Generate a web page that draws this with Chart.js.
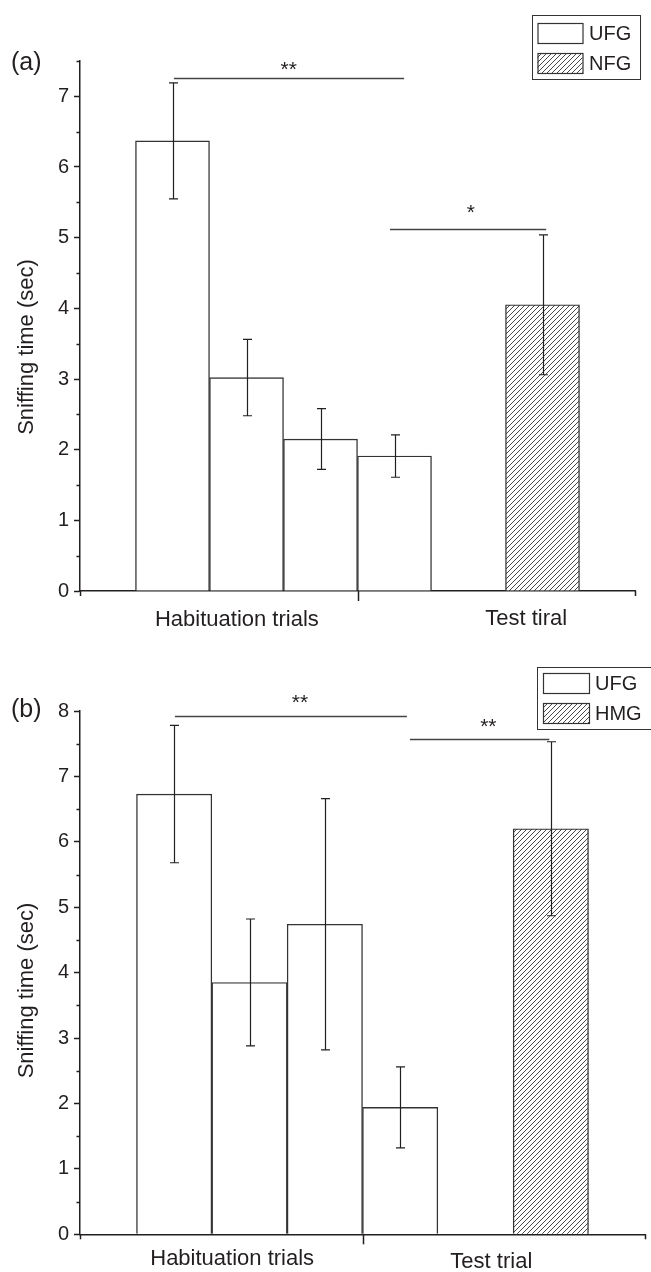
<!DOCTYPE html>
<html>
<head>
<meta charset="utf-8">
<script src="https://cdn.jsdelivr.net/npm/chart.js@4.4.1/dist/chart.umd.min.js"></script>
<style>
  html, body { margin: 0; padding: 0; background: #fff; }
  .panel { position: absolute; left: 0; width: 651px; height: 636px; }
  #panelA { top: 0; }
  #panelB { top: 636px; }
</style>
</head>
<body>
<div class="panel" id="panelA"><canvas id="chartA" width="651" height="636"></canvas></div>
<div class="panel" id="panelB"><canvas id="chartB" width="651" height="636"></canvas></div>
<script>
// Panel (a) data
const aUfgPos = [1.25, 2.25, 3.25, 4.25];
const aUfgMean = [6.37, 3.02, 2.15, 1.91];
const aUfgSem = [0.82, 0.54, 0.43, 0.30];
const aTestPos = [6.25];
const aTestMean = [4.05];
const aTestSem = [0.99];
const aXLabels = ['Habituation trials', 'Test tiral'];
const aXLabelPos = [2.12, 6.03];
const aSigFrom = [1.27, 4.19];
const aSigTo = [4.38, 6.30];
const aSigY = [7.26, 5.12];
const aSigText = ['**', '*'];
const aSigTextX = [2.82, 5.28];
const aSigTextY = [7.46, 5.44];

// Panel (b) data
const bUfgPos = [1.25, 2.25, 3.25, 4.25];
const bUfgMean = [6.73, 3.85, 4.74, 1.94];
const bUfgSem = [1.05, 0.97, 1.92, 0.62];
const bTestPos = [6.25];
const bTestMean = [6.20];
const bTestSem = [1.33];
const bXLabels = ['Habituation trials', 'Test trial'];
const bXLabelPos = [2.02, 5.46];
const bSigFrom = [1.26, 4.38];
const bSigTo = [4.34, 6.23];
const bSigY = [7.92, 7.57];
const bSigText = ['**', '**'];
const bSigTextX = [2.92, 5.42];
const bSigTextY = [8.22, 7.85];

const groupBreaks = [0, 3.75, 7.5];
const breakTickLen = [5, 10, 5];

const ink = '#231f20';
const fontFamily = "'Liberation Sans', Arial, Helvetica, sans-serif";
const starSize = 21;

function makeHatch() {
  const size = 5;
  const c = document.createElement('canvas');
  c.width = size;
  c.height = size;
  const g = c.getContext('2d');
  g.fillStyle = '#fff';
  g.fillRect(0, 0, size, size);
  g.strokeStyle = '#333';
  g.lineWidth = 0.9;
  g.beginPath();
  g.moveTo(0, size); g.lineTo(size, 0);
  g.moveTo(-1, 1); g.lineTo(1, -1);
  g.moveTo(size - 1, size + 1); g.lineTo(size + 1, size - 1);
  g.stroke();
  return g.createPattern(c, 'repeat');
}

// error bars, significance marks, axis decorations, legend
const panelExtras = {
  id: 'panelExtras',
  afterDraw(chart, args, o) {
    const { ctx, chartArea, scales: { x, y } } = chart;
    ctx.save();

    // error bars
    ctx.strokeStyle = ink;
    ctx.lineWidth = 1.2;
    chart.data.datasets.forEach(ds => {
      ds.data.forEach((pt, i) => {
        const px = Math.round(x.getPixelForValue(pt.x)) + 0.5;
        const hi = y.getPixelForValue(pt.y + ds.sem[i]);
        const lo = y.getPixelForValue(pt.y - ds.sem[i]);
        ctx.beginPath();
        ctx.moveTo(px, hi); ctx.lineTo(px, lo);
        ctx.moveTo(px - 4.5, hi); ctx.lineTo(px + 4.5, hi);
        ctx.moveTo(px - 4.5, lo); ctx.lineTo(px + 4.5, lo);
        ctx.stroke();
      });
    });

    // minor y ticks
    ctx.lineWidth = 1.5;
    for (let v = 0.5; v <= y.max + 1e-9; v += 1) {
      const py = Math.round(y.getPixelForValue(v)) + 0.5;
      ctx.beginPath();
      ctx.moveTo(chartArea.left - 3.5, py);
      ctx.lineTo(chartArea.left, py);
      ctx.stroke();
    }

    // x group ticks
    groupBreaks.forEach((v, i) => {
      const px = Math.round(x.getPixelForValue(v)) + 0.5;
      ctx.beginPath();
      ctx.moveTo(px, chartArea.bottom);
      ctx.lineTo(px, chartArea.bottom + breakTickLen[i]);
      ctx.stroke();
    });

    // x category labels
    ctx.fillStyle = ink;
    ctx.font = '22px ' + fontFamily;
    ctx.textAlign = 'center';
    ctx.textBaseline = 'alphabetic';
    o.xLabels.forEach((t, i) => {
      ctx.fillText(t, x.getPixelForValue(o.xLabelPos[i]), chartArea.bottom + o.xLabelDrop[i]);
    });

    // y title
    ctx.save();
    ctx.translate(o.yTitleX, o.yTitleY);
    ctx.rotate(-Math.PI / 2);
    ctx.fillText('Sniffing time (sec)', 0, 0);
    ctx.restore();

    // panel letter
    ctx.textAlign = 'left';
    ctx.font = '25px ' + fontFamily;
    ctx.fillText(o.letter, 11, o.letterY);

    // significance lines and stars
    ctx.strokeStyle = '#444';
    ctx.lineWidth = 1.3;
    ctx.font = starSize + 'px ' + fontFamily;
    ctx.textAlign = 'center';
    o.sigFrom.forEach((x0, i) => {
      const py = Math.round(y.getPixelForValue(o.sigY[i])) + 0.5;
      ctx.beginPath();
      ctx.moveTo(x.getPixelForValue(x0), py);
      ctx.lineTo(x.getPixelForValue(o.sigTo[i]), py);
      ctx.stroke();
      ctx.fillText(o.sigText[i], x.getPixelForValue(o.sigTextX[i]), y.getPixelForValue(o.sigTextY[i]) + starSize * 0.57);
    });

    // legend
    const L = o.legend;
    ctx.strokeStyle = '#333';
    ctx.lineWidth = 1;
    ctx.fillStyle = '#fff';
    ctx.fillRect(L.x, L.y, L.w, L.h);
    ctx.strokeRect(L.x + 0.5, L.y + 0.5, L.w, L.h);
    ctx.font = '20px ' + fontFamily;
    ctx.textAlign = 'left';
    ctx.textBaseline = 'middle';
    chart.data.datasets.forEach((ds, i) => {
      const sy = L.rowY[i];
      ctx.fillStyle = ds.backgroundColor;
      ctx.fillRect(L.swX, sy, L.swW, L.swH);
      ctx.strokeStyle = '#333';
      ctx.lineWidth = 1.2;
      ctx.strokeRect(L.swX + 0.5, sy + 0.5, L.swW, L.swH);
      ctx.fillStyle = ink;
      ctx.fillText(ds.label, L.textX, sy + L.swH / 2 + 1);
    });

    ctx.restore();
  }
};

function buildPanel(canvasId, p) {
  const hatch = makeHatch();
  return new Chart(document.getElementById(canvasId), {
    type: 'bar',
    data: {
      datasets: [
        {
          label: 'UFG',
          data: p.ufgPos.map((v, i) => ({ x: v, y: p.ufgMean[i] })),
          sem: p.ufgSem,
          backgroundColor: '#fff',
          borderColor: '#333',
          borderWidth: 1.4,
          grouped: false,
          barPercentage: 1,
          categoryPercentage: 1
        },
        {
          label: p.testLabel,
          data: p.testPos.map((v, i) => ({ x: v, y: p.testMean[i] })),
          sem: p.testSem,
          backgroundColor: hatch,
          borderColor: '#333',
          borderWidth: 1.4,
          grouped: false,
          barPercentage: 1,
          categoryPercentage: 1
        }
      ]
    },
    options: {
      responsive: false,
      animation: false,
      layout: { padding: { top: p.padTop, right: p.padRight, left: 0, bottom: 0 } },
      plugins: {
        legend: { display: false },
        tooltip: { enabled: false },
        panelExtras: p.extras
      },
      scales: {
        x: {
          type: 'linear',
          min: 0,
          max: 7.5,
          offset: false,
          afterBuildTicks: s => { s.ticks = groupBreaks.map(v => ({ value: v })); },
          ticks: { display: false },
          grid: { display: true, drawOnChartArea: false, drawTicks: false, offset: false },
          border: { color: ink, width: 1.5 },
          afterFit: s => { s.height = p.xAxisHeight; }
        },
        y: {
          min: 0,
          max: p.yMax,
          ticks: {
            stepSize: 1,
            includeBounds: false,
            color: ink,
            padding: 5,
            font: { family: fontFamily, size: 20 }
          },
          grid: { drawOnChartArea: false, tickLength: 6, tickColor: ink, tickWidth: 1.5 },
          border: { color: ink, width: 1.5 },
          afterFit: s => { s.width = 80; }
        }
      }
    },
    plugins: [panelExtras]
  });
}

buildPanel('chartA', {
  ufgPos: aUfgPos, ufgMean: aUfgMean, ufgSem: aUfgSem,
  testPos: aTestPos, testMean: aTestMean, testSem: aTestSem,
  testLabel: 'NFG',
  yMax: 7.5, padTop: 61, padRight: 16, xAxisHeight: 45,
  extras: {
    xLabels: aXLabels, xLabelPos: aXLabelPos, xLabelDrop: [34.5, 33.5],
    yTitleX: 33, yTitleY: 347,
    letter: '(a)', letterY: 70,
    sigFrom: aSigFrom, sigTo: aSigTo, sigY: aSigY,
    sigText: aSigText, sigTextX: aSigTextX, sigTextY: aSigTextY,
    legend: { x: 532, y: 15, w: 108, h: 64, swX: 537.5, swW: 45, swH: 20, rowY: [23, 53], textX: 589 }
  }
});

buildPanel('chartB', {
  ufgPos: bUfgPos, ufgMean: bUfgMean, ufgSem: bUfgSem,
  testPos: bTestPos, testMean: bTestMean, testSem: bTestSem,
  testLabel: 'HMG',
  yMax: 8, padTop: 75, padRight: 6, xAxisHeight: 37.7,
  extras: {
    xLabels: bXLabels, xLabelPos: bXLabelPos, xLabelDrop: [31, 33.5],
    yTitleX: 33, yTitleY: 354.5,
    letter: '(b)', letterY: 80.5,
    sigFrom: bSigFrom, sigTo: bSigTo, sigY: bSigY,
    sigText: bSigText, sigTextX: bSigTextX, sigTextY: bSigTextY,
    legend: { x: 537, y: 31, w: 116, h: 62, swX: 543, swW: 46, swH: 20, rowY: [37, 67], textX: 595 }
  }
});
</script>
</body>
</html>
